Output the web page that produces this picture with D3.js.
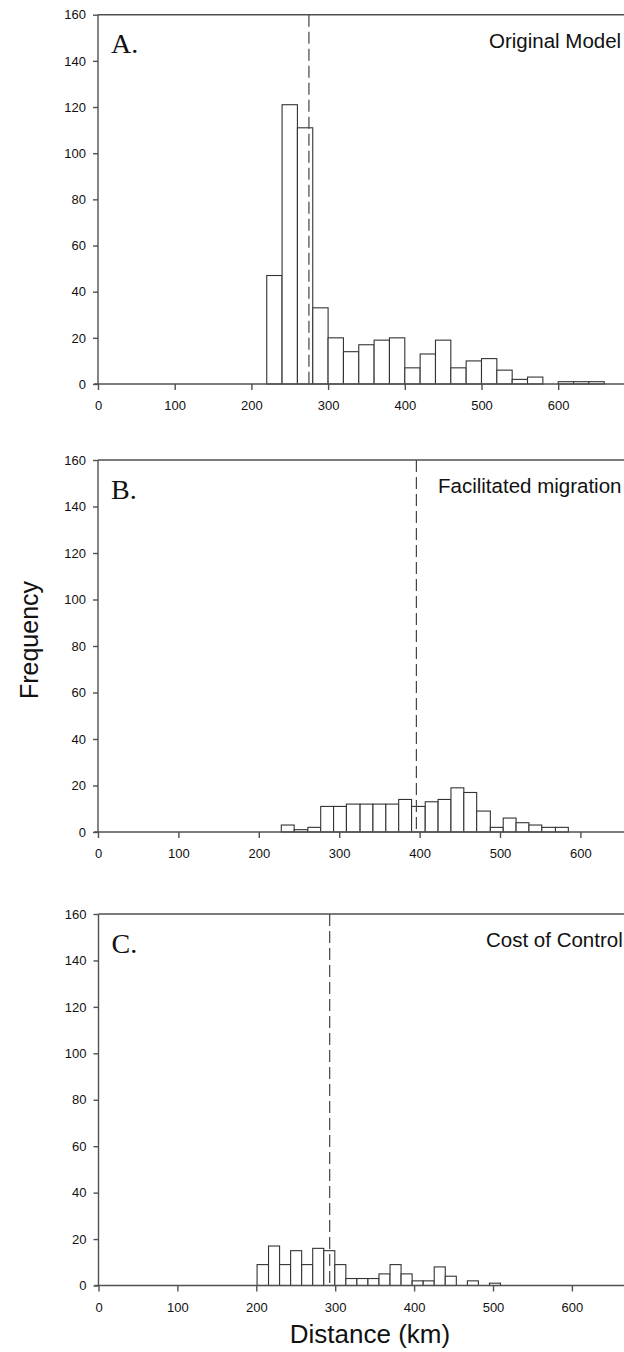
<!DOCTYPE html>
<html>
<head>
<meta charset="utf-8">
<script src="https://cdn.jsdelivr.net/npm/d3@7"></script>
<style>
  body { margin: 0; background: #fff; }
  svg { display: block; }
  .tick text { font-family: "Liberation Sans", Arial, sans-serif; font-size: 13px; fill: #111; }
  .tick line, .domain { stroke: #505050; stroke-width: 1.4; }
</style>
</head>
<body>
<svg id="fig" width="624" height="1352"></svg>
<script>
// histogram bin edges (km) and counts
let binsA = [220, 240, 260, 280, 300, 320, 340, 360, 380, 400, 420, 440, 460, 480, 500, 520, 540, 560, 580, 600, 620, 640, 660];
let countsA = [47, 121, 111, 33, 20, 14, 17, 19, 20, 7, 13, 19, 7, 10, 11, 6, 2, 3, 0, 1, 1, 1];

let binsB = [228, 244, 261, 277, 293, 309, 326, 342, 358, 374, 390, 407, 423, 439, 455, 471, 488, 504, 520, 536, 552, 569, 585];
let countsB = [3, 1, 2, 11, 11, 12, 12, 12, 12, 14, 11, 13, 14, 19, 17, 9, 2, 6, 4, 3, 2, 2];

let binsC = [201, 215.5, 229.5, 243.5, 257.5, 271.5, 285.5, 299.5, 313.5, 327.5, 341.5, 355.5, 369.5, 383.5, 397.5, 411.5, 425.5, 439.5, 453.5, 467.5, 481.5, 495.5, 509.5];
let countsC = [9, 17, 9, 15, 9, 16, 15, 9, 3, 3, 3, 5, 9, 5, 2, 2, 8, 4, 0, 2, 0, 1];

// mean distance (dashed line)
let meanA = 275;
let meanB = 396;
let meanC = 293;

let xTicks = [0, 100, 200, 300, 400, 500, 600];
let yTicks = [0, 20, 40, 60, 80, 100, 120, 140, 160];
let letters = ["A.", "B.", "C."];
let titles = ["Original Model", "Facilitated migration", "Cost of Control"];

const svg = d3.select("#fig");

// each panel was pasted separately, so they sit a bit differently
const layout = [
    { top: 14.7, bottom: 384, left: 98, px100: 76.7, titleX: 489 },
    { top: 460, bottom: 832, left: 98, px100: 80.4, titleX: 438 },
    { top: 914, bottom: 1285.5, left: 98.5, px100: 78.9, titleX: 486 }
];
const panels = [
    { bins: binsA, counts: countsA, mean: meanA },
    { bins: binsB, counts: countsB, mean: meanB },
    { bins: binsC, counts: countsC, mean: meanC }
];

panels.forEach((p, k) => {
    const L = layout[k];
    const x = d3.scaleLinear().domain([0, 700]).range([L.left, L.left + 7 * L.px100]);
    const y = d3.scaleLinear().domain([0, 160]).range([L.bottom, L.top]);
    const g = svg.append("g");

    // top frame line
    g.append("line")
        .attr("x1", x(0)).attr("x2", x(700))
        .attr("y1", y(160)).attr("y2", y(160))
        .attr("stroke", "#505050").attr("stroke-width", 1.4);

    // bars
    const data = p.counts.map((c, i) => ({ x0: p.bins[i], x1: p.bins[i + 1], n: c }))
        .filter(d => d.n > 0);
    g.selectAll("rect.bar")
        .data(data)
        .enter()
        .append("rect")
        .attr("class", "bar")
        .attr("x", d => x(d.x0))
        .attr("width", d => x(d.x1) - x(d.x0))
        .attr("y", d => y(d.n))
        .attr("height", d => y(0) - y(d.n))
        .attr("fill", "#fff")
        .attr("stroke", "#333")
        .attr("stroke-width", 1.1);

    // mean line
    g.append("line")
        .attr("x1", x(p.mean)).attr("x2", x(p.mean))
        .attr("y1", y(160)).attr("y2", y(0))
        .attr("stroke", "#444")
        .attr("stroke-width", 1.2)
        .attr("stroke-dasharray", "12,5");

    // axes
    g.append("g")
        .attr("transform", `translate(0,${y(0)})`)
        .call(d3.axisBottom(x).tickValues(xTicks).tickFormat(d3.format("d")).tickSize(6).tickPadding(11))
        .call(a => a.select(".domain").attr("d", `M${x(0) - 4},0H${x(700)}`));

    g.append("g")
        .attr("transform", `translate(${x(0)},0)`)
        .call(d3.axisLeft(y).tickValues(yTicks).tickSize(5).tickPadding(7))
        .call(a => a.select(".domain").attr("d", `M0,${y(0)}V${y(160)}`));

    // panel letter and title
    g.append("text")
        .attr("x", L.left + 13)
        .attr("y", y(160) + 38.6)
        .attr("font-family", "'Liberation Serif', 'Times New Roman', serif")
        .attr("font-size", 28)
        .attr("fill", "#111")
        .text(letters[k]);

    g.append("text")
        .attr("x", L.titleX)
        .attr("y", y(160) + 33)
        .attr("font-family", "'Liberation Sans', Arial, sans-serif")
        .attr("font-size", 20.5)
        .attr("fill", "#111")
        .text(titles[k]);
});

svg.append("text")
    .attr("transform", "translate(38,640) rotate(-90)")
    .attr("text-anchor", "middle")
    .attr("font-family", "'Liberation Sans', Arial, sans-serif")
    .attr("font-size", 25)
    .attr("fill", "#111")
    .text("Frequency");

svg.append("text")
    .attr("x", 370)
    .attr("y", 1343)
    .attr("text-anchor", "middle")
    .attr("font-family", "'Liberation Sans', Arial, sans-serif")
    .attr("font-size", 26)
    .attr("fill", "#111")
    .text("Distance (km)");
</script>
</body>
</html>
